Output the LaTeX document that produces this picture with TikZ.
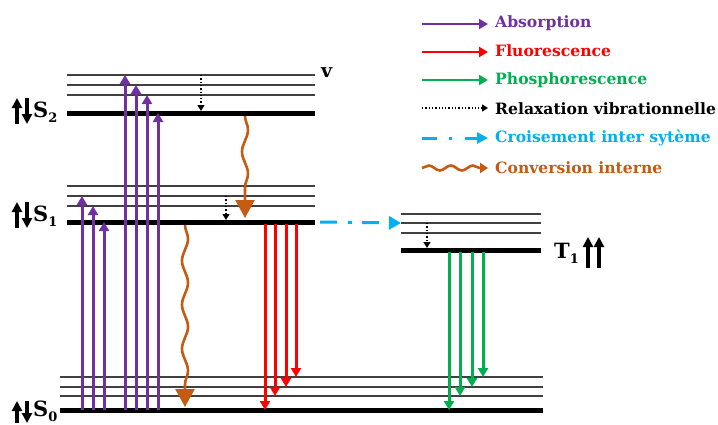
\documentclass[tikz,border=0pt]{standalone}
\usepackage{fontspec}
\setmainfont{DejaVu Serif}
\usetikzlibrary{arrows.meta,decorations.pathmorphing,calc}
\definecolor{cpur}{HTML}{7030A0}
\definecolor{cred}{HTML}{FF0000}
\definecolor{cgrn}{HTML}{00B050}
\definecolor{cblu}{HTML}{00B0F0}
\definecolor{corg}{HTML}{C55A11}
\definecolor{cthin}{HTML}{404040}
\newcommand{\sublab}[2]{\textbf{#1}\raisebox{-0.45ex}{\fontsize{13}{13}\selectfont\bfseries #2}}
\begin{document}
\begin{tikzpicture}[x=1pt,y=-1pt,
  thinlev/.style={draw=cthin,line width=1.3pt},
  thicklev/.style={draw=black,line width=5pt},
  absarrow/.style={draw=cpur,line width=3pt,-{Triangle[length=9pt,width=10pt]}},
  fluarrow/.style={draw=cred,line width=3pt,-{Triangle[length=9pt,width=10pt]}},
  phoarrow/.style={draw=cgrn,line width=3pt,-{Triangle[length=9pt,width=10pt]}},
  relarrow/.style={draw=black,line width=1.3pt,dotted,-{Triangle[length=6pt,width=7pt]}},
  iscarrow/.style={draw=cblu,line width=3pt,dash pattern=on 17pt off 11pt on 4pt off 10pt,-{Triangle[length=12pt,width=13pt]}},
  icarrow/.style={draw=corg,line width=2.6pt,decorate,decoration={snake,amplitude=3pt,segment length=44pt,post length=10pt},-{Triangle[length=18pt,width=19pt]}},
  legtext/.style={anchor=west,font=\fontsize{15.6}{15.6}\selectfont\bfseries,inner sep=0pt},
  lvllab/.style={anchor=west,font=\fontsize{21}{21}\selectfont,inner sep=0pt},
  spinarrow/.style={draw=black,line width=3.2pt,-{Triangle[length=10pt,width=10pt]}}
]
\useasboundingbox (0,0) rectangle (718,424);
% level coordinates (x = 0)
\foreach \n/\y in {S2a/75,S2b/85,S2c/95,S2/113,S1a/186,S1b/196,S1c/206,S1/222,
                  S0a/377,S0b/387,S0c/396,S0/410,T1a/214,T1b/223,T1c/233,T1/250}
  \coordinate (\n) at (0,\y);
% energy levels
\foreach \n in {S2a,S2b,S2c,S1a,S1b,S1c}
  \draw[thinlev] ($(\n)+(67,0)$) -- ($(\n)+(315,0)$);
\foreach \n in {S0a,S0b,S0c}
  \draw[thinlev] ($(\n)+(60,0)$) -- ($(\n)+(543,0)$);
\foreach \n in {T1a,T1b,T1c}
  \draw[thinlev] ($(\n)+(401,0)$) -- ($(\n)+(541,0)$);
\draw[thicklev] ($(S2)+(67,0)$) -- ($(S2)+(315,0)$);
\draw[thicklev] ($(S1)+(67,0)$) -- ($(S1)+(315,0)$);
\draw[thicklev] ($(S0)+(60,0)$) -- ($(S0)+(543,0)$);
\draw[thicklev] ($(T1)+(401,0)$) -- ($(T1)+(541,0)$);
% absorption
\foreach \x/\t in {82/S1b,93/S1c,104/S1,125/S2a,136/S2b,147/S2c,158/S2}
  \draw[absarrow] ($(S0)+(\x,0)$) -- ($(\t)+(\x,0)$);
% fluorescence
\foreach \x/\t in {265/S0,275/S0c,286/S0b,296/S0a}
  \draw[fluarrow] ($(S1)+(\x,2)$) -- ($(\t)+(\x,0)$);
% phosphorescence
\foreach \x/\t in {449/S0,460/S0c,472/S0b,483/S0a}
  \draw[phoarrow] ($(T1)+(\x,2)$) -- ($(\t)+(\x,0)$);
% vibrational relaxation
\draw[relarrow] ($(S2a)+(201,0)$) -- ($(S2)+(201,-2)$);
\draw[relarrow] ($(S1b)+(226,0)$) -- ($(S1)+(226,-2)$);
\draw[relarrow] ($(T1b)+(427,0)$) -- ($(T1)+(427,-2)$);
% internal conversion
\draw[icarrow] ($(S2)+(245,3)$) -- ($(S1)+(245,-4)$);
\draw[icarrow] ($(S1)+(185,3)$) -- ($(S0)+(185,-3)$);
% intersystem crossing
\draw[iscarrow] ($(S1)+(320,0)$) -- ($(T1b)+(401,0)$);
% level labels
\foreach \n/\dy in {S2/-2,S1/-7}{
  \draw[spinarrow] ($(\n)+(17,\dy+13)$) -- ($(\n)+(17,\dy-13)$);
  \draw[spinarrow] ($(\n)+(27,\dy-13)$) -- ($(\n)+(27,\dy+13)$);
}
\draw[spinarrow] ($(S0)+(17,13)$) -- ($(S0)+(17,-9)$);
\draw[spinarrow] ($(S0)+(27,-9)$) -- ($(S0)+(27,13)$);
\node[lvllab] (lS2) at ($(S2)+(33,-1)$) {\sublab{S}{2}};
\node[lvllab] (lS1) at ($(S1)+(33,-6)$) {\sublab{S}{1}};
\node[lvllab] (lS0) at ($(S0)+(33,1)$) {\sublab{S}{0}};
\node[lvllab] (lT1) at ($(T1)+(554,3)$) {\sublab{T}{1}};
\draw[spinarrow] ($(T1)+(588,18)$) -- ($(T1)+(588,-13)$);
\draw[spinarrow] ($(T1)+(599,18)$) -- ($(T1)+(599,-13)$);
\node[lvllab,font=\fontsize{19}{19}\selectfont\bfseries] (lv) at ($(S2a)+(321,-2)$) {v};
% legend
\coordinate (L1a) at (422,24); \coordinate (L1b) at (488,24);
\coordinate (L2a) at (422,52); \coordinate (L2b) at (488,52);
\coordinate (L3a) at (422,80); \coordinate (L3b) at (488,80);
\coordinate (L4a) at (422,108); \coordinate (L4b) at (488,108);
\coordinate (L5a) at (422,138); \coordinate (L5b) at (488,138);
\coordinate (L6a) at (422,168); \coordinate (L6b) at (488,168);
\draw[absarrow,line width=2.8pt] (L1a) -- (L1b);
\draw[fluarrow,line width=2.8pt] (L2a) -- (L2b);
\draw[phoarrow,line width=2.8pt] (L3a) -- (L3b);
\draw[relarrow] (L4a) -- (L4b);
\draw[draw=cblu,line width=3pt,dash pattern=on 15pt off 12pt on 3pt off 13pt,-{Triangle[length=11pt,width=11pt]}] (L5a) -- (L5b);
\draw[draw=corg,line width=2.6pt,decorate,decoration={snake,amplitude=2.5pt,segment length=22pt,post length=6pt},-{Triangle[length=8pt,width=10pt]}] (L6a) -- (L6b);
\node[legtext,text=cpur] (t1) at (495,23) {Absorption};
\node[legtext,text=cred] (t2) at (495,51) {Fluorescence};
\node[legtext,text=cgrn] (t3) at (495,80) {Phosphorescence};
\node[legtext,text=black] (t4) at (495,109) {Relaxation vibrationnelle};
\node[legtext,text=cblu] (t5) at (495,138) {Croisement inter sytème};
\node[legtext,text=corg] (t6) at (495,168) {Conversion interne};
\end{tikzpicture}
\end{document}
